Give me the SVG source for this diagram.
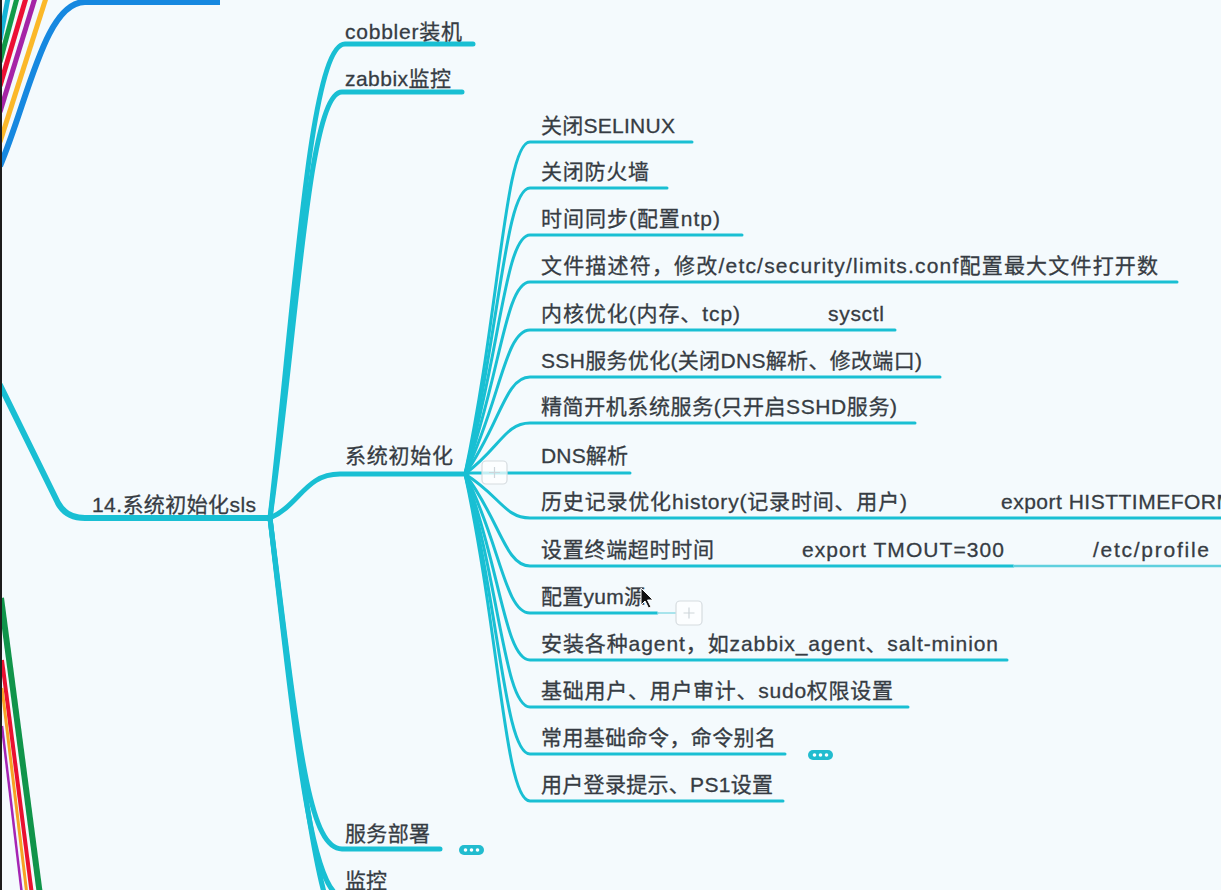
<svg xmlns="http://www.w3.org/2000/svg" width="1221" height="890" viewBox="0 0 1221 890">
<style>
.t{font-family:"Liberation Sans","Noto Sans CJK SC",sans-serif;font-size:21px;fill:#363c43;stroke:#363c43;stroke-width:0.3}
.b1{fill:none;stroke:#19bfd3;stroke-width:6;stroke-linecap:round}
.b2{fill:none;stroke:#19bfd3;stroke-width:5;stroke-linecap:round}
.b3{fill:none;stroke:#19bfd3;stroke-width:3;stroke-linecap:round}
.pl{fill:#ffffff;fill-opacity:0.75;stroke:#d6dce0;stroke-width:1.2}
.pls{stroke:#cdd5da;stroke-width:1.2}
.el{fill:#22bccf}
.dot{fill:#ffffff}
</style>
<rect x="0" y="0" width="1221" height="890" fill="#f4fafd"/>
<g id="connectors">
  <path d="M0,40 L8,-2" fill="none" stroke="#16b3d6" stroke-width="5"/>
  <path d="M0,62 L17,-2" fill="none" stroke="#129a48" stroke-width="5"/>
  <path d="M0,86 L26,-2" fill="none" stroke="#ec1034" stroke-width="5"/>
  <path d="M0,112 L35,-2" fill="none" stroke="#a524a6" stroke-width="5"/>
  <path d="M0,142 L46,-2" fill="none" stroke="#fbb829" stroke-width="5"/>
  <path d="M0,166 C28,100 45,2 85,2 H220" fill="none" stroke="#1688e0" stroke-width="6"/>
  <path d="M1,598 L40,895" fill="none" stroke="#10944a" stroke-width="6"/>
  <path d="M2,660 L32,895" fill="none" stroke="#ea1030" stroke-width="4"/>
  <path d="M2,688 L27,895" fill="none" stroke="#f7a224" stroke-width="3"/>
  <path d="M2,726 L22,895" fill="none" stroke="#a424b4" stroke-width="2.5"/>
  <path class="b1" d="M0,385 L58,503 Q66,518 85,518 H270"/>
  <path class="b2" d="M270,518 C295,300 310,44 345,44 H473"/>
  <path class="b2" d="M270,518 C297,330 308,92 342,92 H462"/>
  <path class="b2" d="M270,518 C300,505 305,474 340,474 H467"/>
  <path class="b2" d="M270,518 C298,740 308,849 342,849 H440"/>
  <path class="b2" d="M270,518 C298,760 312,898 345,898 H400"/>
  <path class="b2" d="M270,518 C300,770 318,910 340,930"/>
  <path class="b3" d="M465,474 C500,308 505,142 530,142 H692"/>
  <path class="b3" d="M465,474 C500,331 505,188 530,188 H667"/>
  <path class="b3" d="M465,474 C500,354 505,235 530,235 H742"/>
  <path class="b3" d="M465,474 C500,378 505,282 530,282 H1177"/>
  <path class="b3" d="M465,474 C500,402 505,330 530,330 H895"/>
  <path class="b3" d="M465,474 C500,425 505,377 530,377 H940"/>
  <path class="b3" d="M465,474 C500,448 505,423 530,423 H915"/>
  <path class="b3" d="M465,473 H630"/>
  <path class="b3" d="M465,474 C500,496 505,518 530,518 H1225"/>
  <path class="b3" d="M465,474 C500,520 505,566 530,566 H1013"/>
  <path d="M1013,566 H1225" fill="none" stroke="#5fd0de" stroke-width="2.5"/>
  <path class="b3" d="M465,474 C500,543 505,613 530,613 H657"/>
  <path d="M657,613 H676" fill="none" stroke="#8fdce6" stroke-width="1.5"/>
  <path class="b3" d="M465,474 C500,567 505,660 530,660 H1007"/>
  <path class="b3" d="M465,474 C500,590 505,707 530,707 H908"/>
  <path class="b3" d="M465,474 C500,614 505,754 530,754 H785"/>
  <path class="b3" d="M465,474 C500,637 505,801 530,801 H783"/>
</g>
<rect x="0" y="0" width="2" height="890" fill="#1c1c1c"/>
<g id="root"><text class="t" x="92" y="512" textLength="164">14.系统初始化sls</text></g>
<g id="n-cobbler"><text class="t" x="345" y="39" textLength="117">cobbler装机</text></g>
<g id="n-zabbix"><text class="t" x="345" y="86" textLength="106">zabbix监控</text></g>
<g id="n-init">
  <text class="t" x="345" y="463" textLength="108">系统初始化</text>
  <rect class="pl" x="482" y="461" width="25" height="23" rx="4"/>
  <path class="pls" d="M494.5,467 V478 M489,472.5 H500"/>
</g>
<g id="n-deploy">
  <text class="t" x="345" y="841" textLength="85">服务部署</text>
  <rect class="el" x="459" y="845" width="25" height="10" rx="5"/>
  <circle class="dot" cx="465.5" cy="850" r="1.8"/><circle class="dot" cx="471.5" cy="850" r="1.8"/><circle class="dot" cx="477.5" cy="850" r="1.8"/>
</g>
<g id="n-monitor"><text class="t" x="345" y="888" textLength="42">监控</text></g>
<g id="c1"><text class="t" x="541" y="133" textLength="134">关闭SELINUX</text></g>
<g id="c2"><text class="t" x="541" y="179" textLength="108">关闭防火墙</text></g>
<g id="c3"><text class="t" x="541" y="226" textLength="179">时间同步(配置ntp)</text></g>
<g id="c4"><text class="t" x="541" y="273" textLength="617">文件描述符，修改/etc/security/limits.conf配置最大文件打开数</text></g>
<g id="c5"><text class="t" x="541" y="321" textLength="199">内核优化(内存、tcp)</text><text class="t" x="828" y="321" textLength="56">sysctl</text></g>
<g id="c6"><text class="t" x="541" y="368" textLength="381">SSH服务优化(关闭DNS解析、修改端口)</text></g>
<g id="c7"><text class="t" x="541" y="414" textLength="356">精简开机系统服务(只开启SSHD服务)</text></g>
<g id="c8"><text class="t" x="541" y="463" textLength="87">DNS解析</text></g>
<g id="c9"><text class="t" x="541" y="509" textLength="366">历史记录优化history(记录时间、用户)</text><text class="t" x="1001" y="509" textLength="233">export HISTTIMEFORM</text></g>
<g id="c10"><text class="t" x="541" y="557" textLength="173">设置终端超时时间</text><text class="t" x="802" y="557" textLength="202">export TMOUT=300</text><text class="t" x="1093" y="557" textLength="116">/etc/profile</text></g>
<g id="c11">
  <text class="t" x="541" y="604" textLength="104">配置yum源</text>
  <rect class="pl" x="676" y="601" width="26" height="24" rx="4"/>
  <path class="pls" d="M689,607.5 V618.5 M683.5,613 H694.5"/>
</g>
<g id="c12"><text class="t" x="541" y="651" textLength="457">安装各种agent，如zabbix_agent、salt-minion</text></g>
<g id="c13"><text class="t" x="541" y="698" textLength="352">基础用户、用户审计、sudo权限设置</text></g>
<g id="c14">
  <text class="t" x="541" y="745" textLength="235">常用基础命令，命令别名</text>
  <rect class="el" x="808" y="750" width="25" height="10" rx="5"/>
  <circle class="dot" cx="814.5" cy="755" r="1.8"/><circle class="dot" cx="820.5" cy="755" r="1.8"/><circle class="dot" cx="826.5" cy="755" r="1.8"/>
</g>
<g id="c15"><text class="t" x="541" y="792" textLength="232">用户登录提示、PS1设置</text></g>
<path d="M641,588 L641,605 L645,601 L648.5,608 L651,607 L647.5,600 L653,600 Z" fill="#111" stroke="#fff" stroke-width="1"/>
</svg>
